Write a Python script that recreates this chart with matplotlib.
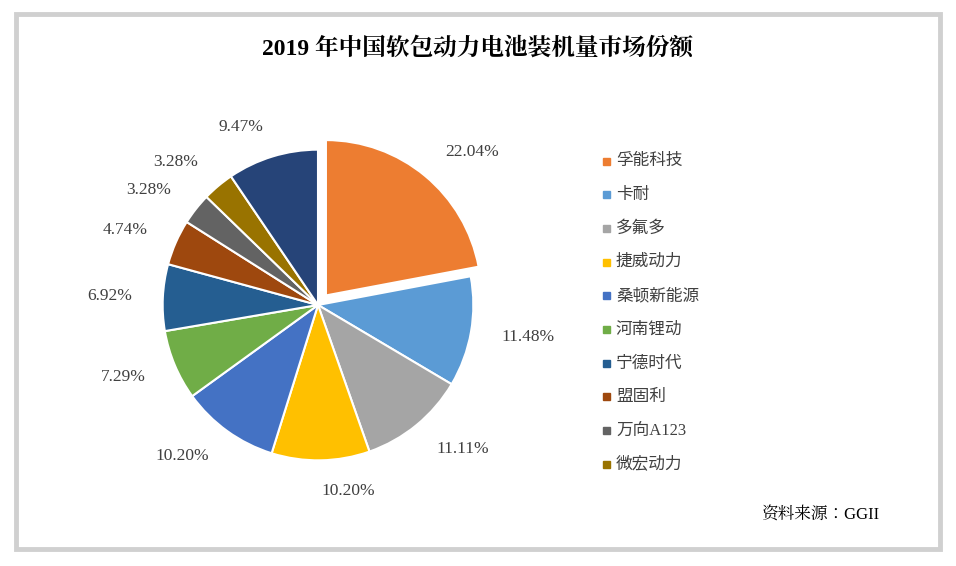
import matplotlib
matplotlib.use("Agg")
import matplotlib.pyplot as plt
from matplotlib.patches import Rectangle

title = "2019 年中国软包动力电池装机量市场份额"
legend_names = ["孚能科技", "卡耐", "多氟多", "捷威动力", "桑顿新能源", "河南锂动", "宁德时代", "盟固利", "万向A123", "微宏动力"]
values = [22.04, 11.48, 11.11, 10.20, 10.20, 7.29, 6.92, 4.74, 3.28, 3.28, 9.47]
colors = ["#ED7D31", "#5B9BD5", "#A5A5A5", "#FFC000", "#4472C4", "#70AD47",
          "#255E91", "#9E480E", "#636363", "#997300", "#264478"]

SERIF = ["Liberation Serif", "Noto Serif CJK JP"]
plt.rcParams["font.family"] = SERIF
fig = plt.figure(figsize=(9.56, 5.66), dpi=100)
fig.patches.append(Rectangle((0.017, 0.03), 0.966, 0.945, transform=fig.transFigure,
                             fill=False, edgecolor="#D0D0D0", linewidth=3.5))
fig.text(0.5, 0.915, title, ha="center", va="center", fontsize=17, fontweight="bold",
         family=SERIF)

ax = fig.add_axes([(318 - 160) / 956, (261 - 160) / 566, 320 / 956, 320 / 566])
explode = [0.08] + [0] * (len(values) - 1)
wedges, texts = ax.pie(values, colors=colors, startangle=90, counterclock=False,
                       explode=explode, radius=1.0,
                       labels=[f"{v:.2f}%" for v in values], labeldistance=1.2,
                       wedgeprops=dict(edgecolor="white", linewidth=1.5),
                       textprops=dict(fontsize=12.5, color="#404040"))
ax.set_xlim(-1.03, 1.03); ax.set_ylim(-1.03, 1.03)
ax.set_aspect("equal")

for i, name in enumerate(legend_names):
    y = 1 - (160 + i * 33.7) / 566
    fig.patches.append(Rectangle((603 / 956, y - 0.008), 7 / 956, 7 / 566,
                                 transform=fig.transFigure, color=colors[i]))
    fig.text(616 / 956, y - 0.002, name, ha="left", va="center", fontsize=12,
             color="#404040", family=["Liberation Serif", "Noto Sans CJK JP"])

fig.text(880 / 956, 1 - 515 / 566, "资料来源：GGII", ha="right", va="center", fontsize=12,
         family=SERIF)
fig.savefig("out.png", dpi=100)
